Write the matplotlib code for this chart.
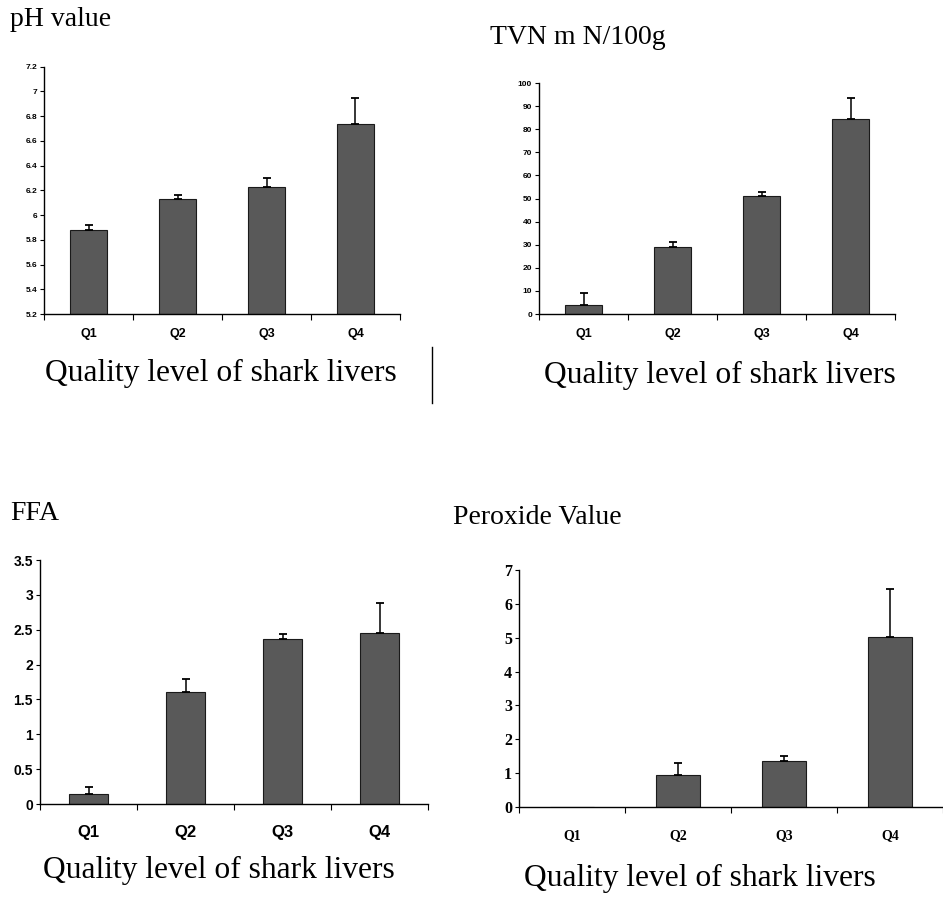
import numpy as np
import matplotlib
matplotlib.use("Agg")
import matplotlib.pyplot as plt
from matplotlib.lines import Line2D

# 数据
categories = ["Q1", "Q2", "Q3", "Q4"]

ph_values = [5.88, 6.13, 6.23, 6.74]
ph_errors = [0.04, 0.03, 0.07, 0.21]
ph_ticks = [5.2, 5.4, 5.6, 5.8, 6.0, 6.2, 6.4, 6.6, 6.8, 7.0, 7.2]
ph_ticklabels = ["5.2", "5.4", "5.6", "5.8", "6", "6.2", "6.4", "6.6", "6.8", "7", "7.2"]

tvn_values = [3.9, 29.0, 51.0, 84.5]
tvn_errors = [5.0, 2.3, 1.8, 9.1]
tvn_ticks = [0, 10, 20, 30, 40, 50, 60, 70, 80, 90, 100]

ffa_values = [0.15, 1.60, 2.37, 2.45]
ffa_errors = [0.10, 0.20, 0.07, 0.44]
ffa_ticks = [0, 0.5, 1, 1.5, 2, 2.5, 3, 3.5]
ffa_ticklabels = ["0", "0.5", "1", "1.5", "2", "2.5", "3", "3.5"]

pv_values = [0.0, 0.94, 1.37, 5.02]
pv_errors = [0.0, 0.35, 0.14, 1.43]
pv_ticks = [0, 1, 2, 3, 4, 5, 6, 7]

xlabel = "Quality level of shark livers"

W, H = 943, 897
fig = plt.figure(figsize=(W / 100, H / 100), dpi=100)
fig.patch.set_facecolor("white")


def box(left, right, top, bottom):
    return [left / W, 1 - bottom / H, (right - left) / W, (bottom - top) / H]


def panel(rect, values, errors, ylim, yticks, yticklabels, xmax,
          tick_font, tick_size, q_font, q_size, q_pad):
    ax = fig.add_axes(rect)
    x = np.arange(len(categories))
    ax.bar(x, [v - ylim[0] for v in values], bottom=ylim[0], width=0.41,
           color="#595959", edgecolor="#1a1a1a", linewidth=0.8, zorder=2)
    # 只画有误差的柱子
    idx = [i for i, e in enumerate(errors) if e > 0]
    ax.errorbar(x[idx], [values[i] for i in idx],
                yerr=[[0] * len(idx), [errors[i] for i in idx]], fmt="none",
                ecolor="black", elinewidth=1.1, capsize=3, capthick=1.3, zorder=3)
    ax.set_xlim(-0.5, xmax)
    ax.set_ylim(*ylim)
    ax.spines["top"].set_visible(False)
    ax.spines["right"].set_visible(False)
    ax.spines["left"].set_linewidth(1.0)
    ax.spines["bottom"].set_linewidth(1.0)
    ax.set_yticks(yticks)
    ax.set_yticklabels(yticklabels, fontfamily=tick_font, fontsize=tick_size,
                       fontweight="bold")
    ax.tick_params(axis="y", length=3, width=0.8, pad=2)
    ax.set_xticks([-0.5, 0.5, 1.5, 2.5, 3.5])
    ax.set_xticklabels([])
    ax.tick_params(axis="x", which="major", length=4, width=0.8)
    ax.set_xticks(x, minor=True)
    ax.set_xticklabels(categories, minor=True, fontfamily=q_font,
                       fontsize=q_size, fontweight="bold")
    ax.tick_params(axis="x", which="minor", length=0, pad=q_pad)
    return ax


serif = "Liberation Serif"
sans = "Liberation Sans"

# pH
panel(box(44, 400, 66.7, 314), ph_values, ph_errors, (5.2, 7.2), ph_ticks,
      ph_ticklabels, 3.5, sans, 6, sans, 9, 10)
fig.text(10 / W, 1 - 20 / H, "pH value", fontfamily=serif, fontsize=20,
         ha="left", va="center")
fig.text(221 / W, 1 - 373 / H, xlabel, fontfamily=serif, fontsize=22.7,
         ha="center", va="center")

# TVN
panel(box(539, 895, 83, 314), tvn_values, tvn_errors, (0, 100), tvn_ticks,
      [str(t) for t in tvn_ticks], 3.5, sans, 6, sans, 9, 10)
fig.text(490 / W, 1 - 38 / H, "TVN m N/100g", fontfamily=serif, fontsize=20,
         ha="left", va="center")
fig.text(720 / W, 1 - 375 / H, xlabel, fontfamily=serif, fontsize=22.7,
         ha="center", va="center")

# FFA
panel(box(40, 428, 560, 804), ffa_values, ffa_errors, (0, 3.5), ffa_ticks,
      ffa_ticklabels, 3.5, sans, 10, sans, 12, 15)
fig.text(10 / W, 1 - 513 / H, "FFA", fontfamily=serif, fontsize=20,
         ha="left", va="center")
fig.text(219 / W, 1 - 870 / H, xlabel, fontfamily=serif, fontsize=22.7,
         ha="center", va="center")

# Peroxide value
panel(box(519, 943, 570, 807), pv_values, pv_errors, (0, 7), pv_ticks,
      [str(t) for t in pv_ticks], 3.43, serif, 11.5, serif, 10, 16)
fig.text(453 / W, 1 - 518 / H, "Peroxide Value", fontfamily=serif, fontsize=20,
         ha="left", va="center")
fig.text(700 / W, 1 - 878 / H, xlabel, fontfamily=serif, fontsize=22.7,
         ha="center", va="center")

# 扫描留下的竖线
fig.add_artist(Line2D([432 / W, 432 / W], [1 - 347 / H, 1 - 403 / H],
                      color="black", linewidth=1.0))

fig.savefig("out.png", dpi=100, facecolor="white")
